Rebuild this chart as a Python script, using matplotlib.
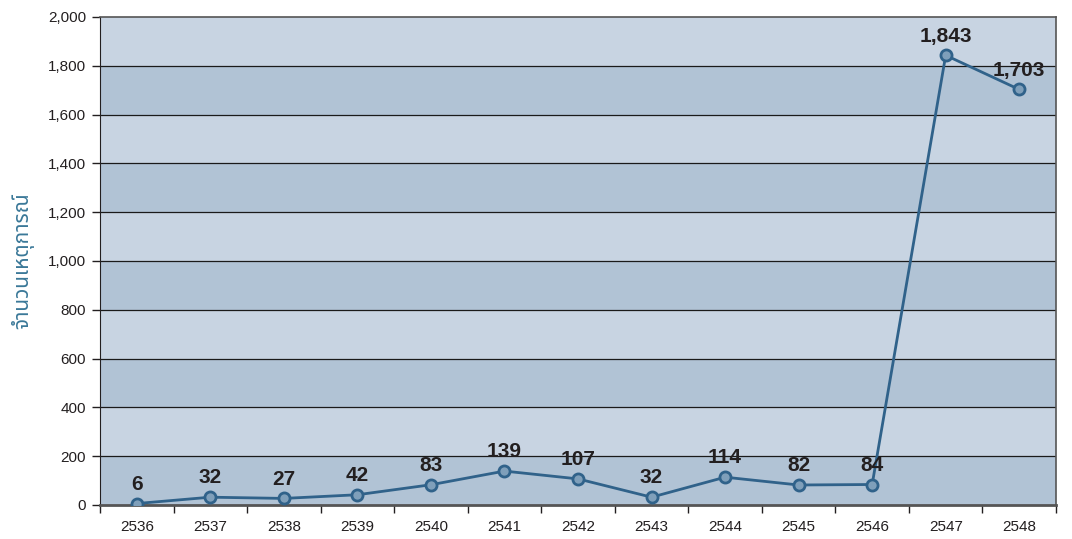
import matplotlib
matplotlib.use('Agg')
import matplotlib.pyplot as plt
from matplotlib.ticker import FuncFormatter, FixedLocator
import numpy as np

plt.rcParams['font.family'] = ['Liberation Sans', 'DejaVu Sans']

years = ['2536', '2537', '2538', '2539', '2540', '2541', '2542',
         '2543', '2544', '2545', '2546', '2547', '2548']
counts = [6, 32, 27, 42, 83, 139, 107, 32, 114, 82, 84, 1843, 1703]

ylabel = 'จำนวนเหตุการณ์'
band_dark = '#b1c3d5'
band_light = '#c8d4e2'
line_col = '#30628a'
marker_fill = '#7f9fba'

fig = plt.figure(figsize=(10.72, 5.39), dpi=100)
ax = fig.add_axes([100 / 1072, 34 / 539, 956 / 1072, 488 / 539])

x = np.arange(len(years))
ax.set_xlim(-0.5, len(years) - 0.5)
ax.set_ylim(0, 2000)

for i, lo in enumerate(range(0, 2000, 200)):
    ax.axhspan(lo, lo + 200, color=band_dark if i % 2 == 0 else band_light, lw=0, zorder=0)
for y in range(200, 2000, 200):
    ax.axhline(y, color='#1a1a1a', lw=0.9, zorder=1)

ax.plot(x, counts, color=line_col, lw=2, marker='o', ms=8,
        mfc=marker_fill, mec=line_col, mew=2, zorder=3)

for xi, v in zip(x, counts):
    ax.text(xi, v + 40, f'{v:,}', ha='center', va='bottom', fontsize=15,
            fontweight='bold', color='#231f20', zorder=4)

ax.set_yticks(range(0, 2001, 200))
ax.yaxis.set_major_formatter(FuncFormatter(lambda v, p: f'{int(v):,}'))
ax.set_xticks(x)
ax.set_xticklabels(years)
ax.xaxis.set_minor_locator(FixedLocator(np.arange(-0.5, len(years), 1.0)))
ax.tick_params(axis='x', which='major', length=0, pad=11, labelsize=11, colors='#231f20')
ax.tick_params(axis='x', which='minor', length=6, width=1, color='#231f20')
ax.tick_params(axis='y', length=6, width=1, labelsize=11, colors='#231f20', pad=4)

for s in ['top', 'right']:
    ax.spines[s].set_color('#555555')
    ax.spines[s].set_linewidth(1.2)
ax.spines['left'].set_color('#231f20')
ax.spines['bottom'].set_color('#555555')
ax.spines['bottom'].set_linewidth(2)

ax.set_ylabel(ylabel, fontsize=15, fontweight='bold', color='#3a7898',
              family=['Noto Sans Thai', 'Loma', 'Garuda', 'DejaVu Sans'], labelpad=10)

fig.savefig('out.png', dpi=100)
